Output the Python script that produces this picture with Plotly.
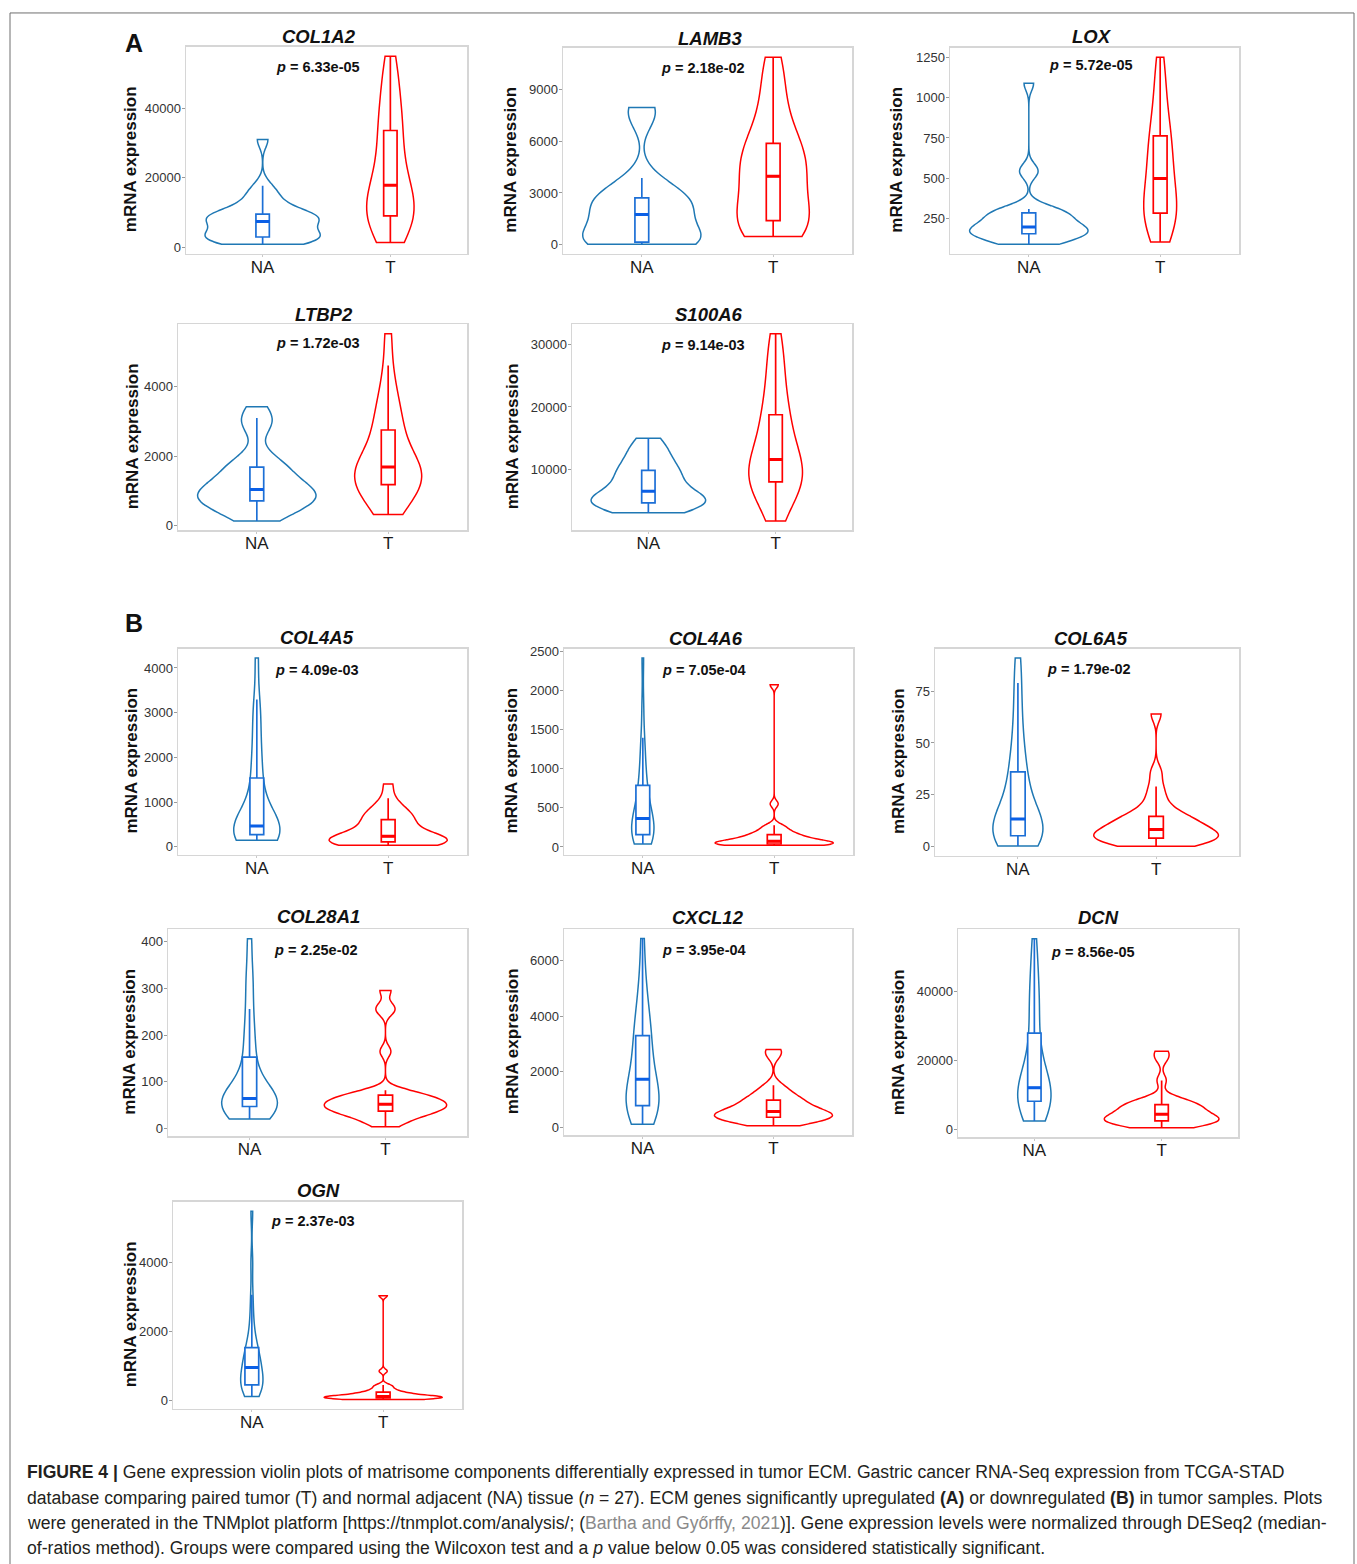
import numpy as np
import plotly.graph_objects as go

# figure fills the whole 1357x1564 page (body margin removed in post_script)
OFF = 0
W, H = 1357, 1564

GENES = ["COL1A2", "LAMB3", "LOX", "LTBP2", "S100A6", "COL4A5",
         "COL4A6", "COL6A5", "COL28A1", "CXCL12", "DCN", "OGN"]
P_VALUES = ["6.33e-05", "2.18e-02", "5.72e-05", "1.72e-03", "9.14e-03", "4.09e-03",
            "7.05e-04", "1.79e-02", "2.25e-02", "3.95e-04", "8.56e-05", "2.37e-03"]
GROUPS = ["NA", "T"]
Y_DTICKS = [20000, 3000, 250, 2000, 10000, 1000, 500, 25, 100, 2000, 20000, 2000]

# per-sample expression values (n = 27 per group)
COL1A2_NA = [780, 1200, 1700, 2100, 2400, 2600, 2800, 3000, 3500, 4200, 5000, 5900, 6700, 7380, 7900, 8300, 8700, 9000, 9200, 9400, 9600, 10800, 12500, 14000, 15500, 17720, 31080]
COL1A2_T = [1280, 3000, 5200, 6800, 7900, 8500, 8800, 9200, 10800, 12300, 13500, 14800, 16200, 17900, 19500, 21500, 24000, 27000, 30000, 33000, 34400, 37000, 40000, 43500, 47000, 51000, 55190]
LAMB3_NA = [20, 40, 60, 80, 100, 120, 145, 165, 300, 600, 900, 1200, 1500, 1750, 1950, 2150, 2350, 2500, 2600, 2680, 2740, 3100, 3500, 3870, 7300, 7800, 7945]
LAMB3_T = [480, 600, 750, 900, 1050, 1200, 1350, 1450, 1900, 2400, 2900, 3300, 3650, 3960, 4250, 4550, 4850, 5150, 5450, 5750, 5990, 6600, 7300, 8100, 9000, 10000, 10870]
LOX_NA = [92, 100, 110, 125, 135, 145, 152, 163, 170, 175, 182, 188, 194, 199, 210, 225, 240, 255, 270, 282, 292, 300, 306, 311, 535, 555, 1088]
LOX_T = [106, 150, 190, 220, 245, 265, 278, 292, 320, 350, 390, 430, 470, 500, 540, 580, 620, 670, 715, 750, 776, 830, 900, 980, 1060, 1160, 1250]
LTBP2_NA = [143, 250, 380, 500, 600, 660, 700, 745, 800, 850, 900, 950, 1000, 1046, 1120, 1200, 1300, 1420, 1550, 1650, 1738, 1850, 2000, 2800, 3000, 3103, 3428]
LTBP2_T = [331, 500, 650, 800, 950, 1050, 1150, 1228, 1330, 1420, 1500, 1570, 1630, 1694, 1780, 1900, 2050, 2250, 2450, 2650, 2870, 3100, 3350, 3650, 4000, 4617, 5531]
S100A6_NA = [3043, 3500, 3900, 4150, 4350, 4500, 4580, 4690, 4900, 5150, 5400, 5700, 6100, 6497, 7000, 7600, 8200, 8800, 9300, 9700, 9980, 10700, 11500, 12300, 13100, 14000, 14983]
S100A6_T = [1722, 3500, 5000, 6200, 7000, 7500, 7800, 8150, 8800, 9400, 10000, 10600, 11100, 11592, 12400, 13500, 14800, 16000, 17300, 18200, 19300, 21000, 23000, 25000, 27000, 29500, 31747]
COL4A5_NA = [148, 170, 195, 220, 240, 255, 268, 280, 320, 360, 400, 430, 450, 467, 520, 620, 760, 950, 1150, 1400, 1682, 1900, 2200, 2600, 2950, 3297, 4222]
COL4A5_T = [37, 55, 70, 85, 95, 102, 108, 114, 125, 140, 160, 185, 210, 238, 270, 330, 400, 470, 530, 580, 638, 700, 760, 820, 900, 1089, 1408]
COL4A6_NA = [38, 60, 85, 105, 125, 140, 152, 166, 200, 240, 280, 315, 340, 364, 400, 450, 520, 590, 660, 740, 834, 930, 1080, 1250, 1397, 1800, 2415]
COL4A6_T = [22, 25, 28, 31, 33, 35, 37, 39, 45, 52, 58, 63, 68, 73, 85, 100, 115, 130, 145, 155, 163, 190, 220, 250, 278, 551, 2073]
COL6A5_NA = [0.2, 1.5, 2.8, 3.8, 4.5, 4.9, 5.0, 5.3, 6.5, 8.0, 9.5, 11.0, 12.2, 13.2, 15.0, 18.0, 22.0, 26.0, 30.0, 34.0, 38.0, 43.0, 50.0, 58.0, 68.0, 79.0, 91.0]
COL6A5_T = [0.1, 0.6, 1.2, 2.0, 2.8, 3.4, 3.8, 4.2, 5.0, 5.6, 6.2, 6.8, 7.5, 8.2, 9.0, 10.0, 11.0, 12.2, 13.5, 14.0, 15.0, 17.0, 20.0, 24.0, 28.9, 36.0, 64.0]
COL28A1_NA = [20, 24, 29, 34, 38, 42, 45, 49, 53, 56, 59, 61, 63, 64, 68, 75, 85, 98, 115, 140, 166, 190, 220, 256, 300, 340, 407]
COL28A1_T = [3.5, 12, 20, 26, 30, 33, 36, 38, 41, 44, 47, 49, 51, 52, 55, 58, 61, 64, 67, 70, 72.8, 76, 82, 165, 250, 262, 296]
CXCL12_NA = [118, 300, 450, 580, 680, 740, 770, 798, 900, 1050, 1200, 1400, 1580, 1733, 1900, 2100, 2400, 2700, 3000, 3200, 3404, 3700, 4000, 4400, 4900, 5600, 6785]
CXCL12_T = [58, 150, 220, 270, 310, 340, 360, 374, 400, 430, 460, 490, 530, 570, 620, 680, 750, 820, 900, 960, 1010, 1100, 1220, 1350, 1519, 2600, 2802]
DCN_NA = [2390, 4500, 5800, 6700, 7300, 7800, 8000, 8260, 9000, 9700, 10400, 11000, 11600, 12060, 13500, 15500, 17500, 19500, 22000, 25000, 30700, 33500, 36500, 40000, 44000, 49000, 55120]
DCN_T = [480, 900, 1300, 1700, 2000, 2250, 2400, 2580, 2800, 3000, 3300, 3600, 4000, 4400, 4800, 5300, 5800, 6300, 6700, 7000, 7360, 7800, 8300, 9200, 14160, 20500, 22590]
OGN_NA = [115, 200, 280, 340, 390, 420, 440, 460, 520, 600, 700, 800, 880, 958, 1020, 1100, 1200, 1300, 1400, 1480, 1588, 1800, 2100, 2500, 3070, 4000, 5496]
OGN_T = [29, 35, 42, 50, 58, 65, 72, 78, 85, 92, 100, 106, 111, 115, 125, 140, 160, 185, 210, 230, 248, 290, 340, 400, 450, 850, 3040]

# box statistics [lower whisker, Q1, median, Q3, upper whisker]
COL1A2_NA_BOX = [780, 2900, 7380, 9500, 17720]
COL1A2_T_BOX = [1280, 9000, 17900, 33700, 55190]
LAMB3_NA_BOX = [20, 155, 1750, 2710, 3870]
LAMB3_T_BOX = [480, 1400, 3960, 5870, 10870]
LOX_NA_BOX = [92, 157.6, 199, 287, 311]
LOX_T_BOX = [106, 285, 500, 763, 1250]
LTBP2_NA_BOX = [143, 723, 1046, 1694, 3103]
LTBP2_T_BOX = [331, 1189, 1694, 2760, 4617]
S100A6_NA_BOX = [3043, 4635, 6497, 9840, 14983]
S100A6_T_BOX = [1722, 7978, 11592, 18756, 31747]
COL4A5_NA_BOX = [148, 274, 467, 1541, 3297]
COL4A5_T_BOX = [37, 111, 238, 609, 1089]
COL4A6_NA_BOX = [38, 159, 364, 787, 1397]
COL4A6_T_BOX = [22, 38, 73, 159, 278]
COL6A5_NA_BOX = [0.2, 5.15, 13.2, 36, 79]
COL6A5_T_BOX = [0.1, 4, 8.2, 14.5, 28.9]
COL28A1_NA_BOX = [20, 47, 64, 153, 256]
COL28A1_T_BOX = [3.5, 37, 52, 71.4, 82]
CXCL12_NA_BOX = [118, 784, 1733, 3302, 6785]
CXCL12_T_BOX = [58, 367, 570, 985, 1519]
DCN_NA_BOX = [2390, 8130, 12060, 27850, 55120]
DCN_T_BOX = [480, 2490, 4400, 7180, 14160]
OGN_NA_BOX = [115, 450, 958, 1534, 3070]
OGN_T_BOX = [29, 75, 115, 239, 450]

NA_SAMPLES = [COL1A2_NA, LAMB3_NA, LOX_NA, LTBP2_NA, S100A6_NA, COL4A5_NA, COL4A6_NA, COL6A5_NA, COL28A1_NA, CXCL12_NA, DCN_NA, OGN_NA]
T_SAMPLES = [COL1A2_T, LAMB3_T, LOX_T, LTBP2_T, S100A6_T, COL4A5_T, COL4A6_T, COL6A5_T, COL28A1_T, CXCL12_T, DCN_T, OGN_T]
NA_BOXES = [COL1A2_NA_BOX, LAMB3_NA_BOX, LOX_NA_BOX, LTBP2_NA_BOX, S100A6_NA_BOX, COL4A5_NA_BOX, COL4A6_NA_BOX, COL6A5_NA_BOX, COL28A1_NA_BOX, CXCL12_NA_BOX, DCN_NA_BOX, OGN_NA_BOX]
T_BOXES = [COL1A2_T_BOX, LAMB3_T_BOX, LOX_T_BOX, LTBP2_T_BOX, S100A6_T_BOX, COL4A5_T_BOX, COL4A6_T_BOX, COL6A5_T_BOX, COL28A1_T_BOX, CXCL12_T_BOX, DCN_T_BOX, OGN_T_BOX]

# ---------------- layout / style (page pixels) ----------------
PANEL_PX = [  # x0, x1, y0(top), y1(bottom)
    (186, 467, 42, 250), (563, 852, 43, 250), (950, 1239, 43, 250),
    (178, 467, 321, 528), (572, 852, 321, 528),
    (178, 467, 647, 854), (564, 853, 647, 854), (935, 1239, 647, 855),
    (168, 467, 929, 1137), (564, 852, 929, 1136), (958, 1238, 929, 1138),
    (173, 462, 1203, 1411),
]
TITLE_PX = [(319, 32), (710, 34), (1092, 32), (324, 311), (709, 311), (317, 636),
            (706, 637), (1091, 637), (318, 916), (708, 917), (1098, 917), (318, 1192)]
PVAL_PX = [(318, 62), (703, 63), (1091, 60), (318, 340), (703, 342), (317, 668),
           (704, 668), (1089, 667), (316, 950), (704, 950), (1093, 952), (313, 1222)]
YLAB_X = [130, 511, 897, 132, 512, 132, 512, 898, 130, 512, 898, 130]
VIOLIN_W = [(0.9, 0.37), (0.9, 0.55), (0.9, 0.25), (0.9, 0.51), (0.9, 0.42), (0.35, 0.9),
            (0.17, 0.9), (0.36, 0.9), (0.41, 0.9), (0.25, 0.9), (0.26, 0.9), (0.17, 0.9)]

NA_LINE, NA_BOXC, NA_MED = "#1f78b4", "#1c6fd6", "#0a5fe6"
T_LINE = "#ff0000"
FONT = "Liberation Sans, Arial, sans-serif"


def px_x(x):
    return (x - OFF) / W


def px_y(y):
    return 1 - (y - OFF) / H


def nrd0(v):
    v = np.asarray(v, float)
    sd = v.std(ddof=1)
    iqr = np.percentile(v, 75) - np.percentile(v, 25)
    lo = min(sd, iqr / 1.34) if iqr > 0 else sd
    return 0.9 * lo * len(v) ** -0.2


fig = go.Figure()
layout = dict(width=W, height=H, margin=dict(l=0, r=0, t=0, b=0), autosize=False,
              paper_bgcolor="white", plot_bgcolor="white", showlegend=False,
              violinmode="overlay", boxmode="overlay", font=dict(family=FONT),
              hovermode=False)
annotations = []

for i, gene in enumerate(GENES):
    n = "" if i == 0 else str(i + 1)
    xa, ya = "x" + n, "y" + n
    x0, x1, y0, y1 = PANEL_PX[i]
    allv = np.concatenate([NA_SAMPLES[i], T_SAMPLES[i]])
    vmin, vmax = allv.min(), allv.max()
    pad = 0.05 * (vmax - vmin)

    groups = [("NA", NA_SAMPLES[i], NA_BOXES[i], NA_LINE, NA_BOXC, NA_MED, VIOLIN_W[i][0]),
              ("T", T_SAMPLES[i], T_BOXES[i], T_LINE, T_LINE, T_LINE, VIOLIN_W[i][1])]
    for grp, vals, bx, lc, bc, mc, vw in groups:
        fig.add_trace(go.Violin(
            x=[grp] * len(vals), y=vals, xaxis=xa, yaxis=ya,
            spanmode="hard", bandwidth=nrd0(vals), width=vw, scalemode="width",
            line=dict(color=lc, width=1.5), fillcolor="rgba(255,255,255,0)",
            points=False, box_visible=False, meanline_visible=False,
            hoverinfo="skip", showlegend=False))
        fig.add_trace(go.Box(
            x=[grp], lowerfence=[bx[0]], q1=[bx[1]], median=[bx[2]], q3=[bx[3]],
            upperfence=[bx[4]], xaxis=xa, yaxis=ya, width=0.105, whiskerwidth=0,
            line=dict(color=bc, width=1.7), fillcolor="white", boxpoints=False,
            hoverinfo="skip", showlegend=False))
        fig.add_trace(go.Box(
            x=[grp], lowerfence=[bx[2]], q1=[bx[2]], median=[bx[2]], q3=[bx[2]],
            upperfence=[bx[2]], xaxis=xa, yaxis=ya, width=0.105, whiskerwidth=0,
            line=dict(color=mc, width=3), fillcolor="rgba(0,0,0,0)", boxpoints=False,
            hoverinfo="skip", showlegend=False))

    layout["xaxis" + n] = dict(
        domain=[px_x(x0), px_x(x1)], anchor=ya, type="category",
        categoryorder="array", categoryarray=GROUPS, range=[-0.6, 1.6],
        showline=True, mirror=True, linecolor="#d6d6d6", linewidth=1.5,
        ticks="outside", ticklen=2, tickcolor="#c8c8c8", ticklabelstandoff=-5,
        tickfont=dict(size=17, color="#1a1a1a", family=FONT),
        showgrid=False, zeroline=False, fixedrange=True)
    layout["yaxis" + n] = dict(
        domain=[px_y(y1), px_y(y0)], anchor=xa, range=[vmin - pad, vmax + pad],
        tick0=0, dtick=Y_DTICKS[i], tickformat="d",
        showline=True, mirror=True, linecolor="#d6d6d6", linewidth=1.5,
        ticks="outside", ticklen=3, tickcolor="#9a9a9a", ticklabelstandoff=-2,
        tickfont=dict(size=13, color="#333333", family=FONT),
        showgrid=False, zeroline=False, fixedrange=True)

    tx, ty = TITLE_PX[i]
    annotations.append(dict(x=px_x(tx), y=px_y(ty), xref="paper", yref="paper",
                            text=f"<b><i>{gene}</i></b>", showarrow=False,
                            font=dict(size=18.5, color="#111111", family=FONT),
                            xanchor="center", yanchor="middle"))
    px_, py_ = PVAL_PX[i]
    annotations.append(dict(x=px_x(px_), y=px_y(py_), xref="paper", yref="paper",
                            text=f"<b><i>p</i> = {P_VALUES[i]}</b>", showarrow=False,
                            font=dict(size=14.5, color="#111111", family=FONT),
                            xanchor="center", yanchor="middle"))
    annotations.append(dict(x=px_x(YLAB_X[i]), y=px_y((y0 + y1) / 2 + 9),
                            xref="paper", yref="paper", text="<b>mRNA expression</b>",
                            textangle=-90, showarrow=False,
                            font=dict(size=17, color="#111111", family=FONT),
                            xanchor="center", yanchor="middle"))

for lab, (lx, ly) in [("A", (134, 38)), ("B", (134, 621))]:
    annotations.append(dict(x=px_x(lx), y=px_y(ly), xref="paper", yref="paper",
                            text=f"<b>{lab}</b>", showarrow=False,
                            font=dict(size=25, color="#111111", family=FONT),
                            xanchor="center", yanchor="middle"))

CAPTION = [
    "<b>FIGURE 4 |</b> Gene expression violin plots of matrisome components differentially expressed in tumor ECM. Gastric cancer RNA-Seq expression from TCGA-STAD",
    "database comparing paired tumor (T) and normal adjacent (NA) tissue (<i>n</i> = 27). ECM genes significantly upregulated <b>(A)</b> or downregulated <b>(B)</b> in tumor samples. Plots",
    "were generated in the TNMplot platform [https://tnmplot.com/analysis/; (<span style='color:#8a8a8a'>Bartha and Győrffy, 2021</span>)]. Gene expression levels were normalized through DESeq2 (median-",
    "of-ratios method). Groups were compared using the Wilcoxon test and a <i>p</i> value below 0.05 was considered statistically significant.",
]
CAPTION_Y = [1475, 1501, 1526, 1551]
for txt, cy in zip(CAPTION, CAPTION_Y):
    annotations.append(dict(x=px_x(25), y=px_y(cy), xref="paper", yref="paper",
                            text=txt, showarrow=False, align="left",
                            font=dict(size=17.6, color="#231f20", family=FONT),
                            xanchor="left", yanchor="middle"))

layout["annotations"] = annotations
layout["shapes"] = [dict(type="rect", xref="paper", yref="paper",
                         x0=px_x(10), x1=px_x(1354), y0=px_y(1590), y1=px_y(8),
                         line=dict(color="#6f6f6f", width=1), fillcolor="rgba(0,0,0,0)",
                         layer="below")]

fig.update_layout(**layout)
fig.write_html(
    "out.html",
    config={"displayModeBar": False, "staticPlot": True},
    post_script="document.body.style.margin='0';document.body.style.overflow='hidden';",
)
